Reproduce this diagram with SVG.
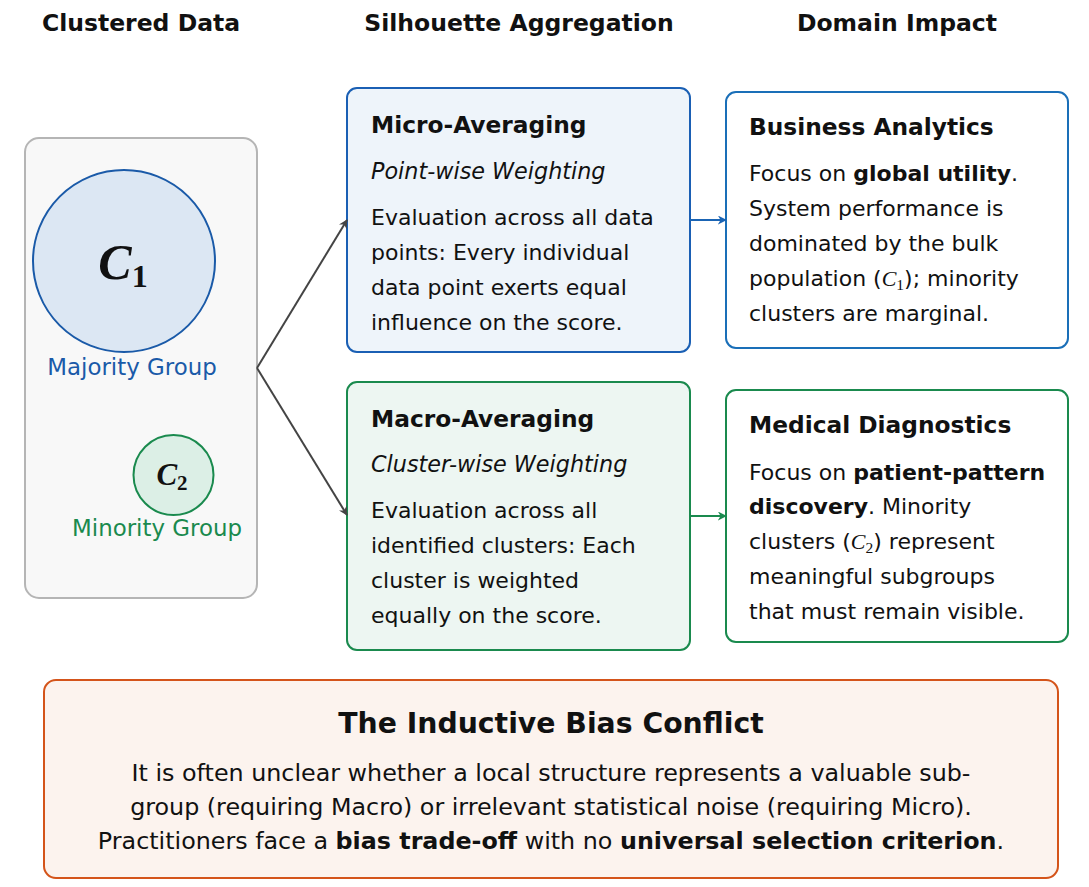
<svg xmlns="http://www.w3.org/2000/svg" width="1089" height="887" viewBox="0 0 1089 887">
<style>
text{font-family:"DejaVu Sans","Liberation Sans",sans-serif;fill:#111}
.hdr{font-size:23.5px;font-weight:bold;text-anchor:middle}
.ttl{font-size:23.3px;font-weight:bold}
.it{font-size:22.3px;font-style:italic}
.bd{font-size:22px}
.bt{font-size:23.8px}
.b{font-weight:bold}
.m{font-family:"Liberation Serif","DejaVu Serif",serif;font-style:italic}
.sub{font-family:"Liberation Serif","DejaVu Serif",serif;font-style:normal;font-size:15.5px}
</style>
<defs>
<marker id="ag" viewBox="0 0 10 10" refX="9" refY="5" markerWidth="9" markerHeight="9" markerUnits="userSpaceOnUse" orient="auto"><path d="M0,0 L10,5 L0,10 L3,5 Z" fill="#444"/></marker>
<marker id="ab" viewBox="0 0 10 10" refX="9" refY="5" markerWidth="9" markerHeight="9" markerUnits="userSpaceOnUse" orient="auto"><path d="M0,0 L10,5 L0,10 L3,5 Z" fill="#1a64b4"/></marker>
<marker id="agr" viewBox="0 0 10 10" refX="9" refY="5" markerWidth="9" markerHeight="9" markerUnits="userSpaceOnUse" orient="auto"><path d="M0,0 L10,5 L0,10 L3,5 Z" fill="#1a8a4e"/></marker>
</defs>
<rect width="1089" height="887" fill="#fff"/>
<g id="headers">
<text class="hdr" x="141" y="31">Clustered Data</text>
<text class="hdr" x="519" y="31">Silhouette Aggregation</text>
<text class="hdr" x="897" y="31">Domain Impact</text>
</g>
<g id="clustered-data">
<rect x="25" y="138" width="232" height="460" rx="14" fill="#f8f8f8" stroke="#b5b5b5" stroke-width="2"/>
<circle cx="124" cy="261" r="91" fill="#dce7f3" stroke="#1a5aa8" stroke-width="2"/>
<text x="123" y="279" text-anchor="middle" font-size="50" font-weight="bold" class="m">C<tspan font-size="32" font-style="normal" dy="8">1</tspan></text>
<text x="132" y="375" text-anchor="middle" font-size="22.9" style="fill:#1a5aa8">Majority Group</text>
<circle cx="173.5" cy="475" r="40" fill="#dcefe6" stroke="#1a8a4e" stroke-width="2"/>
<text x="172" y="485" text-anchor="middle" font-size="31" font-weight="bold" class="m">C<tspan font-size="21" font-style="normal" dy="5">2</tspan></text>
<text x="157" y="536" text-anchor="middle" font-size="22.9" style="fill:#1a8a4e">Minority Group</text>
</g>
<g id="micro">
<rect x="347" y="88" width="343" height="264" rx="10" fill="#eef4fa" stroke="#1a5fb4" stroke-width="2"/>
<text class="ttl" x="371" y="133">Micro-Averaging</text>
<text class="it" x="371" y="179">Point-wise Weighting</text>
<text class="bd" x="371" y="225">Evaluation across all data</text>
<text class="bd" x="371" y="260">points: Every individual</text>
<text class="bd" x="371" y="295">data point exerts equal</text>
<text class="bd" x="371" y="330">influence on the score.</text>
</g>
<g id="macro">
<rect x="347" y="382" width="343" height="268" rx="10" fill="#edf6f2" stroke="#1a8a4e" stroke-width="2"/>
<text class="ttl" x="371" y="427">Macro-Averaging</text>
<text class="it" x="371" y="472">Cluster-wise Weighting</text>
<text class="bd" x="371" y="518">Evaluation across all</text>
<text class="bd" x="371" y="553">identified clusters: Each</text>
<text class="bd" x="371" y="588">cluster is weighted</text>
<text class="bd" x="371" y="623">equally on the score.</text>
</g>
<g id="business">
<rect x="726" y="92" width="342" height="256" rx="10" fill="#fff" stroke="#1a6fb8" stroke-width="2"/>
<text class="ttl" x="749" y="135">Business Analytics</text>
<text class="bd" x="749" y="181">Focus on <tspan class="b">global utility</tspan>.</text>
<text class="bd" x="749" y="216">System performance is</text>
<text class="bd" x="749" y="251">dominated by the bulk</text>
<text class="bd" x="749" y="286">population (<tspan class="m">C</tspan><tspan class="sub" dy="4">1</tspan><tspan dy="-4">); minority</tspan></text>
<text class="bd" x="749" y="321">clusters are marginal.</text>
</g>
<g id="medical">
<rect x="726" y="390" width="342" height="252" rx="10" fill="#fff" stroke="#1a8a4e" stroke-width="2"/>
<text class="ttl" x="749" y="433">Medical Diagnostics</text>
<text class="bd" x="749" y="480">Focus on <tspan class="b">patient-pattern</tspan></text>
<text class="bd" x="749" y="514"><tspan class="b">discovery</tspan>. Minority</text>
<text class="bd" x="749" y="549">clusters (<tspan class="m">C</tspan><tspan class="sub" dy="4">2</tspan><tspan dy="-4">) represent</tspan></text>
<text class="bd" x="749" y="584">meaningful subgroups</text>
<text class="bd" x="749" y="619">that must remain visible.</text>
</g>
<g id="conflict">
<rect x="44" y="680" width="1014" height="198" rx="12" fill="#fcf3ee" stroke="#d4541a" stroke-width="2"/>
<text x="551" y="733" text-anchor="middle" font-size="28.3" font-weight="bold">The Inductive Bias Conflict</text>
<text class="bt" x="551" y="781" text-anchor="middle">It is often unclear whether a local structure represents a valuable sub-</text>
<text class="bt" x="551" y="815" text-anchor="middle">group (requiring Macro) or irrelevant statistical noise (requiring Micro).</text>
<text class="bt" x="551" y="849" text-anchor="middle">Practitioners face a <tspan class="b">bias trade-off</tspan> with no <tspan class="b">universal selection criterion</tspan>.</text>
</g>
<g id="connectors" fill="none" stroke-width="2">
<path d="M257,368 L347,220" stroke="#444" marker-end="url(#ag)"/>
<path d="M257,368 L347,515" stroke="#444" marker-end="url(#ag)"/>
<path d="M690,220 L726,220" stroke="#1a64b4" marker-end="url(#ab)"/>
<path d="M690,516 L726,516" stroke="#1a8a4e" marker-end="url(#agr)"/>
</g>
</svg>
